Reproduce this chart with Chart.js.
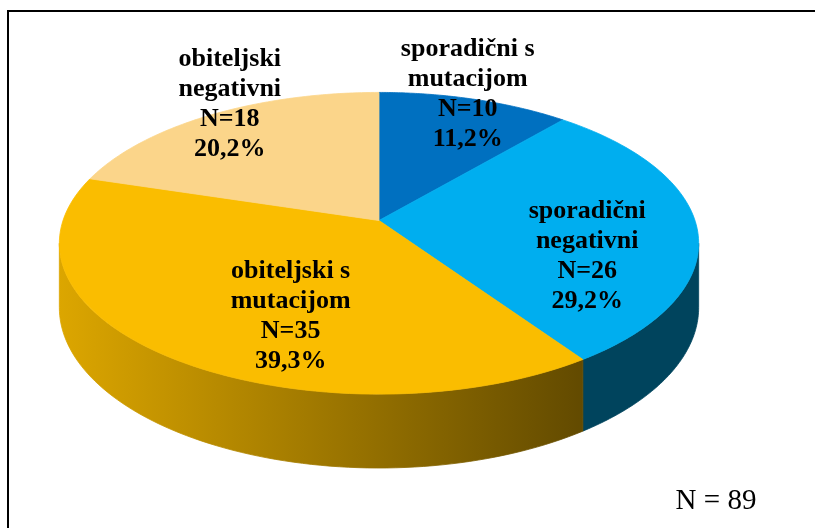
<!DOCTYPE html>
<html>
<head>
<meta charset="utf-8">
<script src="https://cdn.jsdelivr.net/npm/chart.js@4.4.0/dist/chart.umd.min.js"></script>
<style>
    html, body { margin: 0; padding: 0; background: #fff; }
    #wrap { position: relative; width: 815px; height: 528px; overflow: hidden; }
    #frame { position: absolute; left: 7px; top: 10px; width: 900px; height: 600px;
             border-left: 2px solid #000; border-top: 2px solid #000; }
    #myPie { position: absolute; left: 0; top: 0; }
</style>
</head>
<body>
<div id="wrap">
    <div id="frame"></div>
    <canvas id="myPie" width="815" height="528"></canvas>
</div>
<script>
// data
var categories = [
    ['sporadični s', 'mutacijom'],
    ['sporadični', 'negativni'],
    ['obiteljski s', 'mutacijom'],
    ['obiteljski', 'negativni']
];
var counts = [10, 26, 35, 18];
var totalN = 89;

// styles
var topColors = ['#0070C0', '#00AEEF', '#FABD00', '#FBD58A'];
var baseRGB = [[0, 112, 192], [0, 174, 239], [250, 189, 0], [251, 213, 138]];
// label anchor: [radius fraction, dx, dy]
var labelPos = [[1.0, -7, -5], [0.65, 2, 31], [0.6, 33, 19], [1.0, 18, -10]];

/*********************************************/
// fake 3d: perspective squash of the flat pie
var P = 0.151;       // perspective strength (far side smaller)
var AX = 2.0;        // horizontal stretch
var BY = 0.933;      // vertical squash
var DEPTH = 0.397;   // thickness of the pie

function project(cx, cy, R, ang, r, drop) {
    var s = Math.cos(ang), c = -Math.sin(ang);
    var w = 1 + P * c * r;
    return {
        x: cx + AX * R * r * s / w,
        y: cy - BY * R * r * c / w + DEPTH * R * drop / w
    };
}

function shade(rgb, f) {
    return 'rgb(' + Math.round(rgb[0] * f) + ',' + Math.round(rgb[1] * f) + ',' + Math.round(rgb[2] * f) + ')';
}

var pie3d = {
    id: 'pie3d',
    beforeDatasetsDraw: function (chart) {
        var ctx = chart.ctx;
        var arcs = chart.getDatasetMeta(0).data;
        var vis0 = Math.acos(-P) - Math.PI / 2;
        var vis1 = 2 * Math.PI - Math.acos(-P) - Math.PI / 2;
        var n = 80, k, p;

        // sides first
        arcs.forEach(function (arc, i) {
            var a0 = Math.max(arc.startAngle, vis0), a1 = Math.min(arc.endAngle, vis1);
            if (a1 <= a0) return;
            var R = arc.outerRadius;
            var xl = arc.x - AX * R * 1.012, xr = arc.x + AX * R * 1.012;
            var g = ctx.createLinearGradient(xl, 0, xr, 0);
            g.addColorStop(0, shade(baseRGB[i], 0.88));
            g.addColorStop(0.82, shade(baseRGB[i], 0.39));
            g.addColorStop(1, shade(baseRGB[i], 0.39));
            ctx.beginPath();
            for (k = 0; k <= n; k++) {
                p = project(arc.x, arc.y, R, a0 + (a1 - a0) * k / n, 1, 0);
                if (k === 0) ctx.moveTo(p.x, p.y); else ctx.lineTo(p.x, p.y);
            }
            for (k = n; k >= 0; k--) {
                p = project(arc.x, arc.y, R, a0 + (a1 - a0) * k / n, 1, 1);
                ctx.lineTo(p.x, p.y);
            }
            ctx.closePath();
            ctx.fillStyle = g;
            ctx.fill();
            ctx.strokeStyle = g;
            ctx.lineWidth = 0.8;
            ctx.stroke();
        });

        // top faces
        arcs.forEach(function (arc, i) {
            var R = arc.outerRadius;
            ctx.beginPath();
            p = project(arc.x, arc.y, R, 0, 0, 0);
            ctx.moveTo(p.x, p.y);
            for (k = 0; k <= n; k++) {
                p = project(arc.x, arc.y, R, arc.startAngle + (arc.endAngle - arc.startAngle) * k / n, 1, 0);
                ctx.lineTo(p.x, p.y);
            }
            ctx.closePath();
            ctx.fillStyle = topColors[i];
            ctx.fill();
            ctx.strokeStyle = topColors[i];
            ctx.lineWidth = 0.8;
            ctx.stroke();
        });
        return false;
    },
    afterDraw: function (chart) {
        var ctx = chart.ctx;
        var arcs = chart.getDatasetMeta(0).data;
        var vals = chart.data.datasets[0].data;
        var sum = vals.reduce(function (a, b) { return a + b; }, 0);
        ctx.save();
        ctx.fillStyle = '#000';
        ctx.textAlign = 'center';
        ctx.textBaseline = 'middle';
        ctx.font = 'bold 26px "Liberation Serif", "Times New Roman", serif';
        arcs.forEach(function (arc, i) {
            var mid = (arc.startAngle + arc.endAngle) / 2;
            var lp = labelPos[i];
            var p = project(arc.x, arc.y, arc.outerRadius, mid, lp[0], 0);
            var pct = (vals[i] / sum * 100).toFixed(1).replace('.', ',') + '%';
            var lines = chart.data.labels[i].concat(['N=' + vals[i], pct]);
            lines.forEach(function (t, j) {
                ctx.fillText(t, p.x + lp[1], p.y + lp[2] + (j - (lines.length - 1) / 2) * 30);
            });
        });
        ctx.font = '29px "Liberation Serif", "Times New Roman", serif';
        ctx.textBaseline = 'alphabetic';
        ctx.fillText('N = ' + totalN, 716, 509);
        ctx.restore();
    }
};

var ctx = document.getElementById('myPie').getContext('2d');
var chart = new Chart(ctx, {
    type: 'pie',
    data: {
        labels: categories,
        datasets: [{
            data: counts,
            backgroundColor: topColors,
            borderWidth: 0
        }]
    },
    options: {
        responsive: false,
        animation: false,
        layout: {
            padding: { left: 179, right: 236, top: 62.5, bottom: 149.5 }
        },
        plugins: {
            legend: { display: false },
            tooltip: { enabled: false }
        }
    },
    plugins: [pie3d]
});
</script>
</body>
</html>
